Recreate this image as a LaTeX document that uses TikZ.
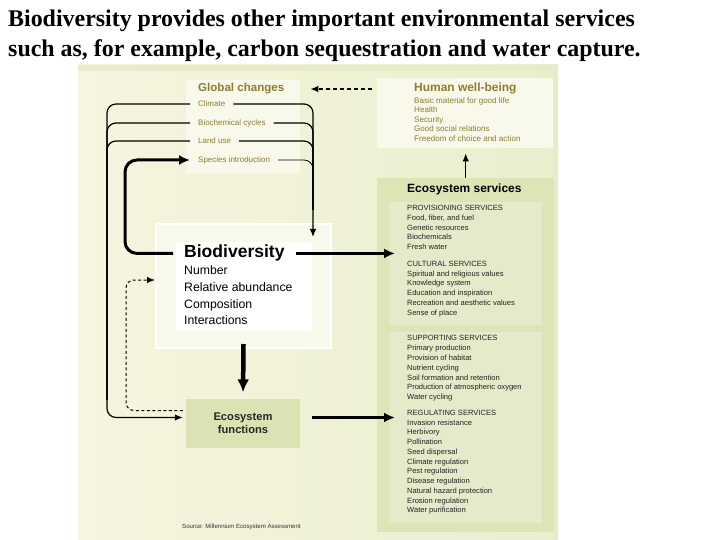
\documentclass[tikz,border=0pt]{standalone}
\usepackage{fontspec}
\setmainfont{Liberation Sans}
\newfontfamily\headfont{Liberation Serif}
\usepackage{tikz}
\usetikzlibrary{arrows.meta,positioning}

\definecolor{paneledge}{RGB}{230,235,200}
\definecolor{panelpale}{RGB}{246,245,224}
\definecolor{panelgreen}{RGB}{234,238,206}
\definecolor{palefill}{RGB}{249,249,235}
\definecolor{olivetxt}{RGB}{139,125,50}
\definecolor{srvouter}{RGB}{220,229,182}
\definecolor{srvinner}{RGB}{229,235,202}
\definecolor{funcgreen}{RGB}{220,226,180}
\definecolor{srvtxt}{RGB}{35,35,35}

\begin{document}
\begin{tikzpicture}[x=1bp, y=-1bp,
        >={Latex[length=8bp,width=6.5bp]},
        plainbox/.style={draw=none, inner sep=0pt, anchor=north west},
        gctitle/.style={anchor=west, inner sep=0pt, text=olivetxt, font=\bfseries\fontsize{11.6}{13}\selectfont},
        gcitem/.style={anchor=west, inner xsep=8bp, inner ysep=0pt, text height=5.9bp, text depth=1.6bp, text=olivetxt, font=\fontsize{8}{9}\selectfont},
        hwblist/.style={anchor=north west, inner sep=0pt, align=left, text=olivetxt, font=\fontsize{8.1}{9.6}\selectfont},
        srvlist/.style={anchor=north west, inner sep=0pt, align=left, text=srvtxt, font=\fontsize{7.6}{9.8}\selectfont},
        loopline/.style={line width=1.2bp, rounded corners=9bp},
        flowline/.style={line width=3bp, ->, >={Latex[length=11bp,width=10bp]}},
        feedback/.style={line width=1bp, dash pattern=on 3bp off 2.5bp, rounded corners=8bp}]

        % Background
        \useasboundingbox (0,0) rectangle (720,540);
        \fill[white] (0,0) rectangle (720,540);
        \shade[left color=panelpale, right color=panelgreen] (78,65) rectangle (558,540);
        \fill[paneledge] (78,65) rectangle (558,71);
        \fill[paneledge] (553,65) rectangle (558,540);

        % Heading
        \node[anchor=north west, inner sep=0pt, align=left, font=\headfont\bfseries\fontsize{24}{30}\selectfont] (heading) at (8,10) {Biodiversity provides other important environmental services\\such as, for example, carbon sequestration and water capture.};

        % Boxes
        \node[plainbox, fill=palefill, minimum width=114bp, minimum height=93bp] (gcbox) at (186,80) {};
        \node[plainbox, fill=palefill, minimum width=176bp, minimum height=70bp] (hwbbox) at (377,78) {};
        \node[plainbox, fill=srvouter, minimum width=177bp, minimum height=354bp] (srvbox) at (377,178) {};
        \node[plainbox, fill=srvinner, minimum width=153bp, minimum height=123bp] (provbox) at (389,202) {};
        \node[plainbox, fill=srvinner, minimum width=153bp, minimum height=191bp] (suppbox) at (389,332) {};
        \node[plainbox, fill=palefill, draw=white, line width=2bp, minimum width=175bp, minimum height=124bp] (bioframe) at (155,223) {};
        \node[plainbox, fill=white, minimum width=136bp, minimum height=88bp] (biocore) at (176,242) {};
        \node[fill=funcgreen, minimum width=114bp, minimum height=49bp, align=center, font=\bfseries\fontsize{11.2}{13.3}\selectfont, text=black!85] (func) at (243,423.5) {Ecosystem\\functions};

        % Global changes
        \node[gctitle] (gcTitle) at (198,89) {Global changes};
        \node[gcitem] (gcClimate) at (190,104) {Climate};
        \node[gcitem] (gcCycles) at (190,123) {Biochemical cycles};
        \node[gcitem] (gcLand) at (190,141) {Land use};
        \node[gcitem] (gcSpecies) at (190,160) {Species introduction};

        % Human well-being
        \node[gctitle, font=\bfseries\fontsize{12}{13}\selectfont] (hwbTitle) at (414,88) {Human well-being};
        \node[hwblist] (hwbList) at (414,97) {Basic material for good life\\Health\\Security\\Good social relations\\Freedom of choice and action};

        % Ecosystem services
        \node[anchor=west, inner sep=0pt, font=\bfseries\fontsize{12}{13}\selectfont] (srvTitle) at (407,189) {Ecosystem services};
        \node[srvlist] (provList) at (407,205) {PROVISIONING SERVICES\\Food, fiber, and fuel\\Genetic resources\\Biochemicals\\Fresh water\\[7bp]CULTURAL SERVICES\\Spiritual and religious values\\Knowledge system\\Education and inspiration\\Recreation and aesthetic values\\Sense of place};
        \node[srvlist] (suppList) at (407,335.5) {SUPPORTING SERVICES\\Primary production\\Provision of habitat\\Nutrient cycling\\Soil formation and retention\\Production of atmospheric oxygen\\Water cycling\\[6bp]REGULATING SERVICES\\Invasion resistance\\Herbivory\\Pollination\\Seed dispersal\\Climate regulation\\Pest regulation\\Disease regulation\\Natural hazard protection\\Erosion regulation\\Water purification};

        % Biodiversity
        \node[anchor=base west, inner xsep=11bp, inner ysep=0pt, font=\bfseries\fontsize{17.6}{19}\selectfont] (bioTitle) at (173,258) {Biodiversity};
        \node[below=4bp of bioTitle.south west, anchor=north west, inner xsep=11bp, inner ysep=0pt, align=left, font=\fontsize{12.3}{16.7}\selectfont] (bioList) {Number\\Relative abundance\\Composition\\Interactions};

        \node[anchor=west, inner sep=0pt, font=\fontsize{6.1}{7}\selectfont, text=black!80] (source) at (182,527) {Source: Millennium Ecosystem Assessment};

        % Connectors
        \coordinate (leftRail) at (107,400);
        \coordinate (rightRail) at (313,210);
        \coordinate (bioIn) at (313,237);
        \coordinate (funcIn) at ([xshift=-3bp,yshift=6bp]func.west);
        \coordinate (funcOut) at ([yshift=6bp]func.east);
        \coordinate (loopRail) at (125,200);
        \coordinate (fbStart) at ([xshift=-3bp,yshift=13bp]func.west);
        \coordinate (fbRail) at (126,280);
        \coordinate (fbEnd) at (bioframe.west |- fbRail);

        \draw[loopline, ->] (gcClimate.west) -| (leftRail) |- (funcIn);
        \draw[loopline] (gcCycles.west) -| (leftRail);
        \draw[loopline] (gcLand.west) -| (leftRail);
        \draw[loopline, ->] (gcClimate.east) -| (bioIn);
        \draw[loopline] (gcCycles.east) -| (rightRail);
        \draw[loopline] (gcLand.east) -| (rightRail);
        \draw[loopline, line width=0.8bp] (gcSpecies.east) -| (rightRail);

        \draw[flowline, rounded corners=12bp] (bioTitle.west) -| (loopRail) |- (gcSpecies.west);
        \draw[flowline, shorten >=12bp] (bioTitle.east) -- (bioTitle.east -| provList.west);
        \draw[flowline, shorten <=12bp, shorten >=12bp] (funcOut) -- (funcOut -| suppList.west);
        \draw[line width=4.5bp, -{Latex[length=13bp,width=12bp]}, shorten >=6.5bp] ([yshift=5bp]bioframe.south) -- (func.north);

        \draw[feedback, ->] (fbStart) -| (fbRail) -- (fbEnd);
        \draw[feedback, line width=1.3bp, dash pattern=on 4bp off 3bp, ->, shorten <=5bp, shorten >=10bp] (gcTitle.east -| hwbbox.west) -- (gcTitle.east -| gcbox.east);
        \draw[line width=1.3bp, ->, shorten >=5bp] (srvbox.north) -- (srvbox.north |- hwbbox.south);

\end{tikzpicture}
\end{document}
